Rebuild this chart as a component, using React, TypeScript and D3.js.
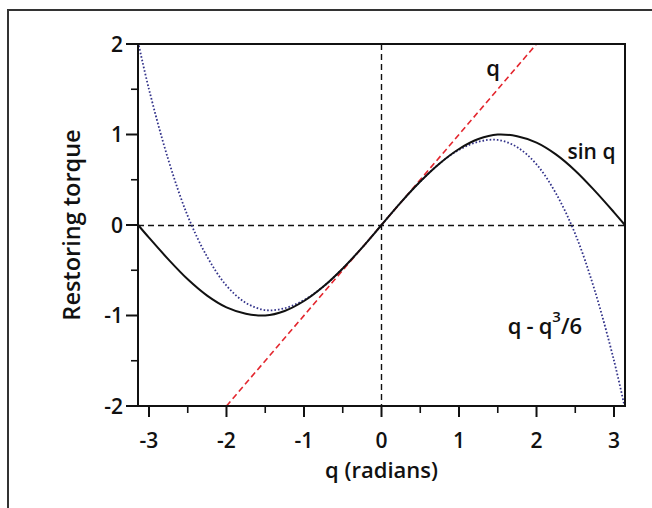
import { useMemo } from "react";
import * as d3 from "d3";

// sample points (q in radians)
const qValues = [
  -3.14, -3.0, -2.75, -2.5, -2.25, -2.0, -1.75, -1.5, -1.25, -1.0, -0.75, -0.5, -0.25, 0,
  0.25, 0.5, 0.75, 1.0, 1.25, 1.5, 1.75, 2.0, 2.25, 2.5, 2.75, 3.0, 3.14,
];
const sinValues = [
  0.0, -0.14, -0.38, -0.6, -0.78, -0.91, -0.98, -1.0, -0.95, -0.84, -0.68, -0.48, -0.25, 0,
  0.25, 0.48, 0.68, 0.84, 0.95, 1.0, 0.98, 0.91, 0.78, 0.6, 0.38, 0.14, 0.0,
];
const cubicValues = [
  2.02, 1.5, 0.72, 0.1, -0.35, -0.67, -0.86, -0.94, -0.92, -0.83, -0.68, -0.48, -0.25, 0,
  0.25, 0.48, 0.68, 0.83, 0.92, 0.94, 0.86, 0.67, 0.35, -0.1, -0.72, -1.5, -2.02,
];
const linearQ = [-2, 2];
const linearValues = [-2, 2];

const xMajorTicks = [-3, -2, -1, 0, 1, 2, 3];
const xMinorTicks = [-2.5, -1.5, -0.5, 0.5, 1.5, 2.5];
const yMajorTicks = [-2, -1, 0, 1, 2];
const yMinorTicks = [-1.5, -0.5, 0.5, 1.5];

const W = 652;
const H = 508;
const FONT = "'Open Sans', 'Noto Sans', sans-serif";
const FS = 21;

export default function App() {
  const m = { left: 138, right: 625, top: 44, bottom: 406 };

  const x = useMemo(
    () => d3.scaleLinear().domain([-Math.PI, Math.PI]).range([m.left, m.right]),
    []
  );
  const y = useMemo(() => d3.scaleLinear().domain([-2, 2]).range([m.bottom, m.top]), []);

  const line = d3
    .line<[number, number]>()
    .x((d) => x(d[0]))
    .y((d) => y(d[1]))
    .curve(d3.curveCatmullRom);

  const sinPts = qValues.map((q, i) => [q, sinValues[i]] as [number, number]);
  const cubicPts = qValues.map((q, i) => [q, cubicValues[i]] as [number, number]);
  const linPts = linearQ.map((q, i) => [q, linearValues[i]] as [number, number]);

  return (
    <svg
      width={W}
      height={H}
      style={{ position: "absolute", left: 0, top: 0, background: "#fff" }}
      fontFamily={FONT}
      fontWeight={600}
    >
      {/* outer frame */}
      <rect x={8} y={10} width={W} height={H} fill="none" stroke="#333" strokeWidth={2} />

      <defs>
        <clipPath id="plot">
          <rect x={m.left} y={m.top} width={m.right - m.left} height={m.bottom - m.top} />
        </clipPath>
      </defs>

      {/* zero lines */}
      <line
        x1={x(0)} x2={x(0)} y1={m.top} y2={m.bottom}
        stroke="#111" strokeWidth={1.4} strokeDasharray="6,4"
      />
      <line
        x1={m.left} x2={m.right} y1={y(0) + 0.5} y2={y(0) + 0.5}
        stroke="#111" strokeWidth={1.4} strokeDasharray="6,4"
      />

      <g clipPath="url(#plot)">
        <path d={line(cubicPts) ?? ""} fill="none" stroke="#33338a" strokeWidth={1.8} strokeDasharray="1.6,2" />
        <path d={line(linPts) ?? ""} fill="none" stroke="#e3262e" strokeWidth={1.6} strokeDasharray="6,3.5" />
        <path d={line(sinPts) ?? ""} fill="none" stroke="#111" strokeWidth={2} />
      </g>

      {/* plot box */}
      <rect
        x={m.left} y={m.top} width={m.right - m.left} height={m.bottom - m.top}
        fill="none" stroke="#111" strokeWidth={2}
      />

      {/* x ticks */}
      {xMajorTicks.map((t) => (
        <g key={`xm${t}`}>
          <line x1={x(t)} x2={x(t)} y1={m.bottom} y2={m.bottom + 11} stroke="#111" strokeWidth={2} />
          <text x={x(t)} y={448} textAnchor="middle" fontSize={FS} fill="#111">
            {t < 0 ? `-${Math.abs(t)}` : t}
          </text>
        </g>
      ))}
      {xMinorTicks.map((t) => (
        <line key={`xn${t}`} x1={x(t)} x2={x(t)} y1={m.bottom} y2={m.bottom + 7} stroke="#111" strokeWidth={1.6} />
      ))}

      {/* y ticks */}
      {yMajorTicks.map((t) => (
        <g key={`ym${t}`}>
          <line x1={m.left - 12} x2={m.left} y1={y(t)} y2={y(t)} stroke="#111" strokeWidth={2} />
          <text x={m.left - 15} y={y(t)} dy="0.36em" textAnchor="end" fontSize={FS} fill="#111">
            {t < 0 ? `-${Math.abs(t)}` : t}
          </text>
        </g>
      ))}
      {yMinorTicks.map((t) => (
        <line key={`yn${t}`} x1={m.left - 7} x2={m.left} y1={y(t)} y2={y(t)} stroke="#111" strokeWidth={1.6} />
      ))}

      {/* axis titles */}
      <text x={x(0)} y={478} textAnchor="middle" fontSize={22} fill="#111">
        q (radians)
      </text>
      <text
        transform={`translate(80, ${(m.top + m.bottom) / 2}) rotate(-90)`}
        textAnchor="middle"
        fontSize={23.5}
        fill="#111"
      >
        Restoring torque
      </text>

      {/* curve labels */}
      <text x={x(1.44)} y={y(1.65)} textAnchor="middle" fontSize={22} fill="#111">q</text>
      <text x={x(2.4)} y={y(0.73)} fontSize={FS} fill="#111">sin q</text>
      <text x={x(1.63)} y={y(-1.2)} fontSize={22} fill="#111">
        q
        <tspan dx={5}>-</tspan>
        <tspan dx={5}>q</tspan>
        <tspan fontSize={15} dy={-12}>3</tspan>
        <tspan dy={12}>/6</tspan>
      </text>
    </svg>
  );
}
